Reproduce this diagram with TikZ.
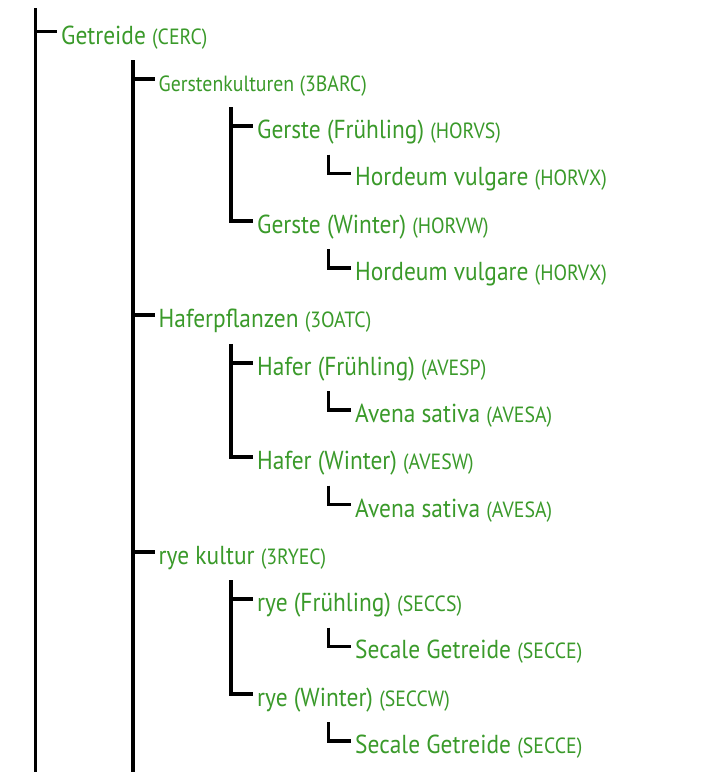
\documentclass[tikz,border=0pt]{standalone}
\usepackage{fontspec}
\setmainfont{PT Sans}[FakeStretch=0.9]
\definecolor{leaf}{RGB}{58,154,42}
\newcommand{\codetxt}[1]{{\fontsize{22}{22}\selectfont #1}}
\tikzset{
  item/.style={anchor=base west, inner sep=0pt, text=leaf, font=\fontsize{26}{26}\selectfont},
  smallitem/.style={item, font=\fontsize{22}{22}\selectfont},
  conn/.style={line width=3.8pt, line join=miter, line cap=butt},
}
\begin{document}
\begin{tikzpicture}[x=1pt,y=-1pt]
\useasboundingbox (0,0) rectangle (724,772);
\fill[white] (0,0) rectangle (724,772);

% nodes (baselines every 47.3px)
\node[item] (n0) at (61,44) {Getreide \codetxt{(CERC)}};
\node[smallitem] (n1) at (158.5,91.3) {Gerstenkulturen (3BARC)};
\node[item] (n2) at (257,138.6) {Gerste (Frühling) \codetxt{(HORVS)}};
\node[item] (n3) at (355,185.9) {Hordeum vulgare \codetxt{(HORVX)}};
\node[item] (n4) at (257,233.2) {Gerste (Winter) \codetxt{(HORVW)}};
\node[item] (n5) at (355,280.5) {Hordeum vulgare \codetxt{(HORVX)}};
\node[item] (n6) at (158.5,327.8) {Haferpflanzen \codetxt{(3OATC)}};
\node[item] (n7) at (257,375.1) {Hafer (Frühling) \codetxt{(AVESP)}};
\node[item] (n8) at (355,422.4) {Avena sativa \codetxt{(AVESA)}};
\node[item] (n9) at (257,469.7) {Hafer (Winter) \codetxt{(AVESW)}};
\node[item] (n10) at (355,517) {Avena sativa \codetxt{(AVESA)}};
\node[item] (n11) at (158.5,564.3) {rye kultur \codetxt{(3RYEC)}};
\node[item] (n12) at (257,611.6) {rye (Frühling) \codetxt{(SECCS)}};
\node[item] (n13) at (355,658.9) {Secale Getreide \codetxt{(SECCE)}};
\node[item] (n14) at (257,706.2) {rye (Winter) \codetxt{(SECCW)}};
\node[item] (n15) at (355,753.5) {Secale Getreide \codetxt{(SECCE)}};

% hook points
\foreach \i in {0,...,15} {
  \coordinate (h\i) at ([shift={(-4pt,12.5pt)}]n\i.base west);
}

% vertical tops
\coordinate (t0) at (35.5,8);
\coordinate (e0) at (35.5,772);
\coordinate (t1) at (133,60);
\coordinate (e1) at (133,772);
\coordinate (t2) at (231,107.3);
\coordinate (t6) at (231,343.8);
\coordinate (t11) at (231,580.3);
\coordinate (t3) at (328.5,154.6);
\coordinate (t5) at (328.5,249.2);
\coordinate (t8) at (328.5,391.1);
\coordinate (t10) at (328.5,485.7);
\coordinate (t13) at (328.5,627.6);
\coordinate (t15) at (328.5,722.2);

% level 0
\draw[conn] (t0) -- (e0);
\draw[conn] (t0 |- h0) -- (h0);
% level 1
\draw[conn] (t1) -- (e1);
\draw[conn] (t1 |- h1) -- (h1);
\draw[conn] (t1 |- h6) -- (h6);
\draw[conn] (t1 |- h11) -- (h11);
% level 2
\draw[conn] (t2) |- (h4);
\draw[conn] (t2 |- h2) -- (h2);
\draw[conn] (t6) |- (h9);
\draw[conn] (t6 |- h7) -- (h7);
\draw[conn] (t11) |- (h14);
\draw[conn] (t11 |- h12) -- (h12);
% level 3
\draw[conn] (t3) |- (h3);
\draw[conn] (t5) |- (h5);
\draw[conn] (t8) |- (h8);
\draw[conn] (t10) |- (h10);
\draw[conn] (t13) |- (h13);
\draw[conn] (t15) |- (h15);
\end{tikzpicture}
\end{document}
